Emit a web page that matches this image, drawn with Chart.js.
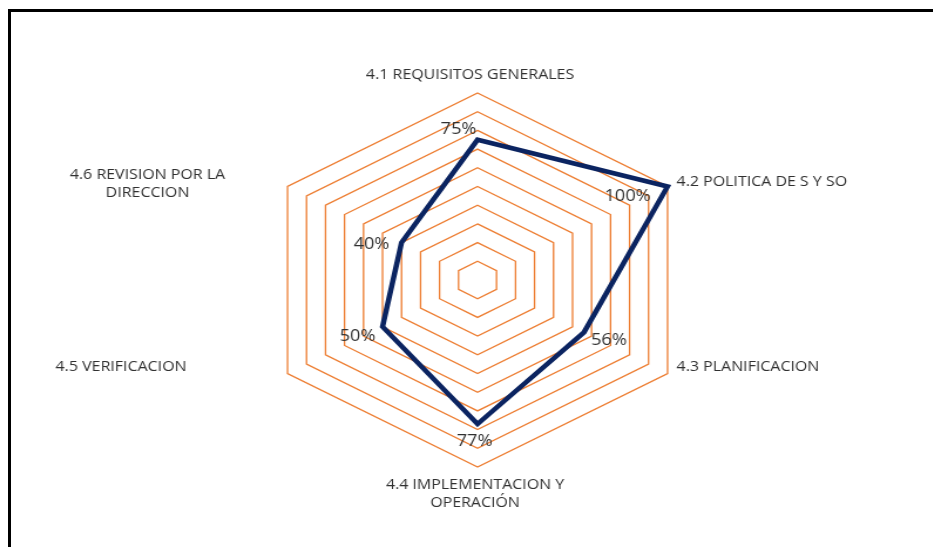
<!DOCTYPE html>
<html>
<head>
<meta charset="utf-8">
<style>
  html, body { margin: 0; padding: 0; background: #fff; overflow: hidden; }
  .frame {
    position: absolute; left: 8px; top: 9px; width: 930px; height: 540px;
    border-top: 3px solid #000; border-left: 3px solid #000;
  }
  .chart-container {
    position: absolute; left: 0; top: 0; width: 795px; height: 547px;
    transform: scaleX(1.1733); transform-origin: 0 0;
  }
</style>
</head>
<body>
<div class="frame"></div>
<div class="chart-container">
  <canvas id="chart1"></canvas>
</div>
<script src="https://cdn.jsdelivr.net/npm/chart.js@4.4.0/dist/chart.umd.min.js"></script>
<script>
  const categories = [
    ['4.1 REQUISITOS GENERALES'],
    ['4.2 POLITICA DE S Y SO'],
    ['4.3 PLANIFICACION'],
    ['4.4 IMPLEMENTACION Y', 'OPERACIÓN'],
    ['4.5 VERIFICACION'],
    ['4.6 REVISION POR LA', 'DIRECCION']
  ]
  const values = [75, 100, 56, 77, 50, 40]
  const valueLabels = ['75%', '100%', '56%', '77%', '50%', '40%']

  const STRETCH = 1.1733 // the reference is wider than tall

  // label placement, screen px: [dx, dy, align] from outer vertex
  const catPlace = [
    [-7.5, -18, 'center'],
    [9, -4, 'left'],
    [9, -6, 'left'],
    [-2.5, 18.5, 'center'],
    [-101, -6, 'right'],
    [-140, -11.5, 'center']
  ]
  // data label offsets from the point, screen px
  const valPlace = [[-19, -10.5], [-40, 10], [25, 8.3], [-3, 18], [-25, 10], [-30, 2]]

  const labelPlugin = {
    id: 'labels',
    afterDraw(chart) {
      const ctx = chart.ctx
      const scale = chart.scales.r
      ctx.save()
      ctx.fillStyle = '#303030'
      ctx.textBaseline = 'middle'
      ctx.font = '13.6px "Open Sans"'
      categories.forEach((lines, i) => {
        const p = scale.getPointPosition(i, scale.getDistanceFromCenterForValue(100))
        const [dx, dy, align] = catPlace[i]
        ctx.textAlign = align
        lines.forEach((t, j) => {
          ctx.fillText(t, p.x + dx / STRETCH, p.y + dy + j * 18)
        })
      })
      ctx.font = '15.5px "Open Sans"'
      ctx.textAlign = 'center'
      const meta = chart.getDatasetMeta(0)
      meta.data.forEach((pt, i) => {
        const [dx, dy] = valPlace[i]
        ctx.fillText(valueLabels[i], pt.x + dx / STRETCH, pt.y + dy)
      })
      ctx.restore()
    }
  }

  new Chart(document.getElementById('chart1'), {
    type: 'radar',
    data: {
      labels: categories,
      datasets: [
        {
          data: values,
          borderColor: '#0b2461',
          borderWidth: 4.5,
          borderJoinStyle: 'miter',
          pointRadius: 0,
          fill: false,
          tension: 0
        }
      ]
    },
    options: {
      responsive: true,
      maintainAspectRatio: false,
      animation: false,
      layout: {
        padding: { left: 19, right: 0, top: 93, bottom: 79 }
      },
      plugins: {
        legend: { display: false },
        tooltip: { enabled: false }
      },
      scales: {
        r: {
          min: 0,
          max: 100,
          ticks: { display: false, stepSize: 10 },
          grid: { color: '#ed7d31', lineWidth: 1.3 },
          angleLines: { display: false },
          pointLabels: { display: false }
        }
      }
    },
    plugins: [labelPlugin]
  })
</script>
</body>
</html>
